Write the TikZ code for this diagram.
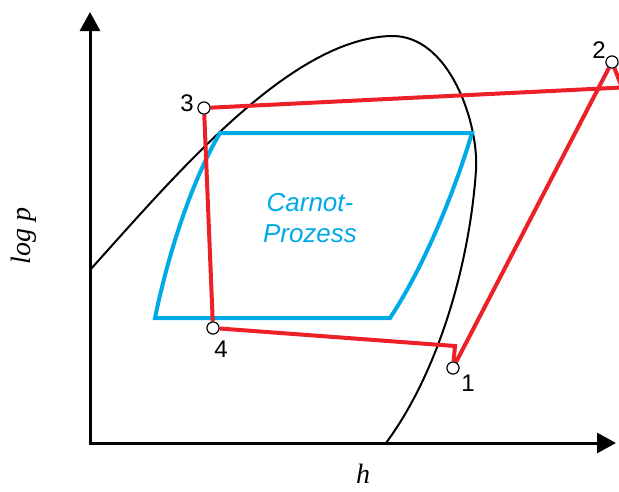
\documentclass[tikz,border=0pt]{standalone}
\usepackage{fontspec}
\setmainfont{Liberation Serif}
\newfontfamily\helv{Liberation Sans}
\usetikzlibrary{arrows.meta}
\definecolor{cyclered}{RGB}{236,32,39}
\definecolor{carnotblue}{RGB}{0,170,230}
\tikzset{
  axis/.style={line width=3pt,-{Triangle[length=19pt,width=20pt]}},
  dome/.style={line width=2pt,black},
  redline/.style={line width=4pt,cyclered,line join=miter},
  blueline/.style={line width=4pt,carnotblue,line join=miter},
  statept/.style={circle,draw=black,fill=white,line width=1pt,minimum size=12pt,inner sep=0pt},
  numlbl/.style={font=\helv\fontsize{24pt}{28pt}\selectfont,inner sep=0pt},
}
\begin{document}
\begin{tikzpicture}[x=1pt,y=-1pt]
\useasboundingbox (0,0) rectangle (619,491);
\clip (0,0) rectangle (619,491);
% axes
\coordinate (O) at (90,443);
\coordinate (ytip) at (90,12);
\coordinate (xtip) at (616,443);
\draw[axis] (90,444.5) -- (ytip);
\draw[axis] (88.5,443) -- (xtip);
\node[font=\itshape\fontsize{28pt}{30pt}\selectfont,rotate=90] (ylab) at (24,236) {log p};
\node[font=\itshape\fontsize{28pt}{30pt}\selectfont] (xlab) at (363,474) {h};
% saturation dome
\draw[dome] (90,270) .. controls (180,170) and (290,40) .. (390,36)
  .. controls (450,33.6) and (479,125) .. (476,170)
  .. controls (470,260) and (440,370) .. (386,443);
% Carnot process
\coordinate (c1) at (220,133);
\coordinate (c2) at (472,133);
\coordinate (c3) at (390,318);
\coordinate (c4) at (155,318);
\draw[blueline] (c4) .. controls (170,245) and (195,175) .. (c1) -- (c2) .. controls (455,190) and (425,265) .. (c3) -- cycle;
\node[font=\helv\itshape\fontsize{26pt}{31pt}\selectfont,text=carnotblue,align=center] (carnot) at (310,218) {Carnot-\\Prozess};
% refrigeration cycle
\node[statept] (p1) at (453,368) {};
\node[statept] (p2) at (612,62) {};
\node[statept] (p3) at (204,108) {};
\node[statept] (p4) at (213,328) {};
\coordinate (k1) at (455,346);
\coordinate (k2) at (622,87.5);
\draw[redline] (p4) -- (k1) -- (p1);
\draw[redline] (p1) -- (p2);
\draw[redline] (p2) -- (k2) -- (p3);
\draw[redline] (p3) -- (p4);
\node[statept] at (p1) {};
\node[statept] at (p2) {};
\node[statept] at (p3) {};
\node[statept] at (p4) {};
\node[numlbl] (l1) at (468,383) {1};
\node[numlbl] (l2) at (599,50) {2};
\node[numlbl] (l3) at (187,103) {3};
\node[numlbl] (l4) at (221,349) {4};
\end{tikzpicture}
\end{document}
